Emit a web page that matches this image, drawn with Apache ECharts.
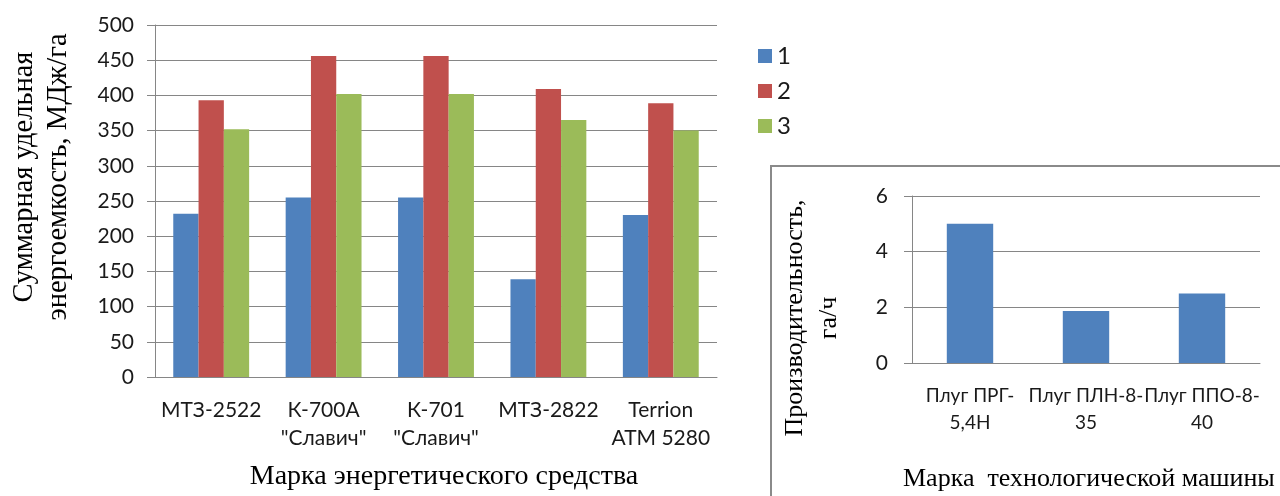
<!DOCTYPE html>
<html>
<head>
<meta charset="utf-8">
<script src="https://cdn.jsdelivr.net/npm/echarts@6/dist/echarts.min.js"></script>
<style>
  html, body { margin: 0; padding: 0; background: #fff; }
  #chart { width: 1280px; height: 496px; }
</style>
</head>
<body>
<div id="chart"></div>
<script>
// Energy-intensity chart: tractors on the main axes
const tractorCategories = ['МТЗ-2522', 'К-700А\n"Славич"', 'К-701\n"Славич"', 'МТЗ-2822', 'Terrion\nАТМ 5280'];
const seriesNames = ['1', '2', '3'];
const series1Values = [232, 255, 255, 139, 230];
const series2Values = [393, 456, 456, 409, 389];
const series3Values = [352, 402, 402, 365, 350];
const mainYTicks = { min: 0, max: 500, interval: 50 };

// Productivity inset: ploughs
const ploughCategories = ['Плуг ПРГ-\n5,4Н', 'Плуг ПЛН-8-\n35', 'Плуг ППО-8-\n40'];
const productivityValues = [5.0, 1.87, 2.5];
const insetYTicks = { min: 0, max: 6, interval: 2 };

const COLORS = ['#4f81bd', '#c0504d', '#9bbb59'];
const GRID_COLOR = '#868686';
const SANS = 'Lato, "Noto Sans", sans-serif';
const SERIF = '"Liberation Serif", "DejaVu Serif", serif';

const chart = echarts.init(document.getElementById('chart'), null, { renderer: 'canvas' });

const option = {
  backgroundColor: '#ffffff',
  animation: false,
  color: COLORS,
  legend: {
    data: seriesNames,
    orient: 'vertical',
    left: 753,
    top: 39,
    itemWidth: 14,
    itemHeight: 14,
    itemGap: 11,
    icon: 'rect',
    textStyle: { fontFamily: SANS, fontSize: 24, lineHeight: 24, color: '#1a1a1a' }
  },
  graphic: [
    // Frame around the inset chart
    {
      type: 'rect', z: -10, silent: true,
      shape: { x: 771, y: 166, width: 540, height: 360 },
      style: { fill: '#ffffff', stroke: '#8a8a8a', lineWidth: 2 }
    },
    {
      type: 'text', x: 42, y: 177, rotation: Math.PI / 2,
      style: {
        text: 'Суммарная удельная\nэнергоемкость, МДж/га',
        font: '28.5px ' + SERIF, fill: '#000', align: 'center', verticalAlign: 'middle', lineHeight: 34
      }
    },
    {
      type: 'text', x: 444, y: 477,
      style: {
        text: 'Марка энергетического средства',
        font: '28px ' + SERIF, fill: '#000', align: 'center', verticalAlign: 'middle'
      }
    },
    {
      type: 'text', x: 812, y: 318, rotation: Math.PI / 2,
      style: {
        text: 'Производительность,\nга/ч',
        font: '26px ' + SERIF, fill: '#000', align: 'center', verticalAlign: 'middle', lineHeight: 34
      }
    },
    {
      type: 'text', x: 903, y: 479,
      style: {
        text: 'Марка  технологической машины',
        font: '26px ' + SERIF, fill: '#000', align: 'left', verticalAlign: 'middle'
      }
    }
  ],
  grid: [
    { left: 155, top: 25, width: 562, height: 352 },
    { left: 912, top: 196, width: 348, height: 167 }
  ],
  xAxis: [
    {
      type: 'category', gridIndex: 0, data: tractorCategories,
      axisLine: { lineStyle: { color: GRID_COLOR } },
      axisTick: { length: 7, lineStyle: { color: GRID_COLOR } },
      axisLabel: { interval: 0, margin: 19, fontFamily: SANS, fontSize: 21, lineHeight: 28, color: '#1a1a1a' }
    },
    {
      type: 'category', gridIndex: 1, data: ploughCategories,
      axisLine: { lineStyle: { color: GRID_COLOR } },
      axisTick: { length: 7, lineStyle: { color: GRID_COLOR } },
      axisLabel: { interval: 0, margin: 19, fontFamily: SANS, fontSize: 19, lineHeight: 27, color: '#1a1a1a' }
    }
  ],
  yAxis: [
    {
      type: 'value', gridIndex: 0,
      min: mainYTicks.min, max: mainYTicks.max, interval: mainYTicks.interval,
      axisLine: { show: true, lineStyle: { color: GRID_COLOR } },
      axisTick: { show: true, length: 8, lineStyle: { color: GRID_COLOR } },
      splitLine: { lineStyle: { color: GRID_COLOR, width: 1 } },
      axisLabel: { margin: 21, fontFamily: SANS, fontSize: 21, color: '#1a1a1a' }
    },
    {
      type: 'value', gridIndex: 1,
      min: insetYTicks.min, max: insetYTicks.max, interval: insetYTicks.interval,
      axisLine: { show: true, lineStyle: { color: GRID_COLOR } },
      axisTick: { show: true, length: 8, lineStyle: { color: GRID_COLOR } },
      splitLine: { lineStyle: { color: GRID_COLOR, width: 1 } },
      axisLabel: { margin: 24, fontFamily: SANS, fontSize: 21, color: '#1a1a1a' }
    }
  ],
  series: [
    { name: seriesNames[0], type: 'bar', xAxisIndex: 0, yAxisIndex: 0, data: series1Values, barGap: '0%', barCategoryGap: '32.5%' },
    { name: seriesNames[1], type: 'bar', xAxisIndex: 0, yAxisIndex: 0, data: series2Values, barGap: '0%', barCategoryGap: '32.5%' },
    { name: seriesNames[2], type: 'bar', xAxisIndex: 0, yAxisIndex: 0, data: series3Values, barGap: '0%', barCategoryGap: '32.5%' },
    {
      name: 'productivity', type: 'bar', xAxisIndex: 1, yAxisIndex: 1, data: productivityValues,
      barCategoryGap: '60%', itemStyle: { color: COLORS[0] }
    }
  ]
};

chart.setOption(option);
</script>
</body>
</html>
